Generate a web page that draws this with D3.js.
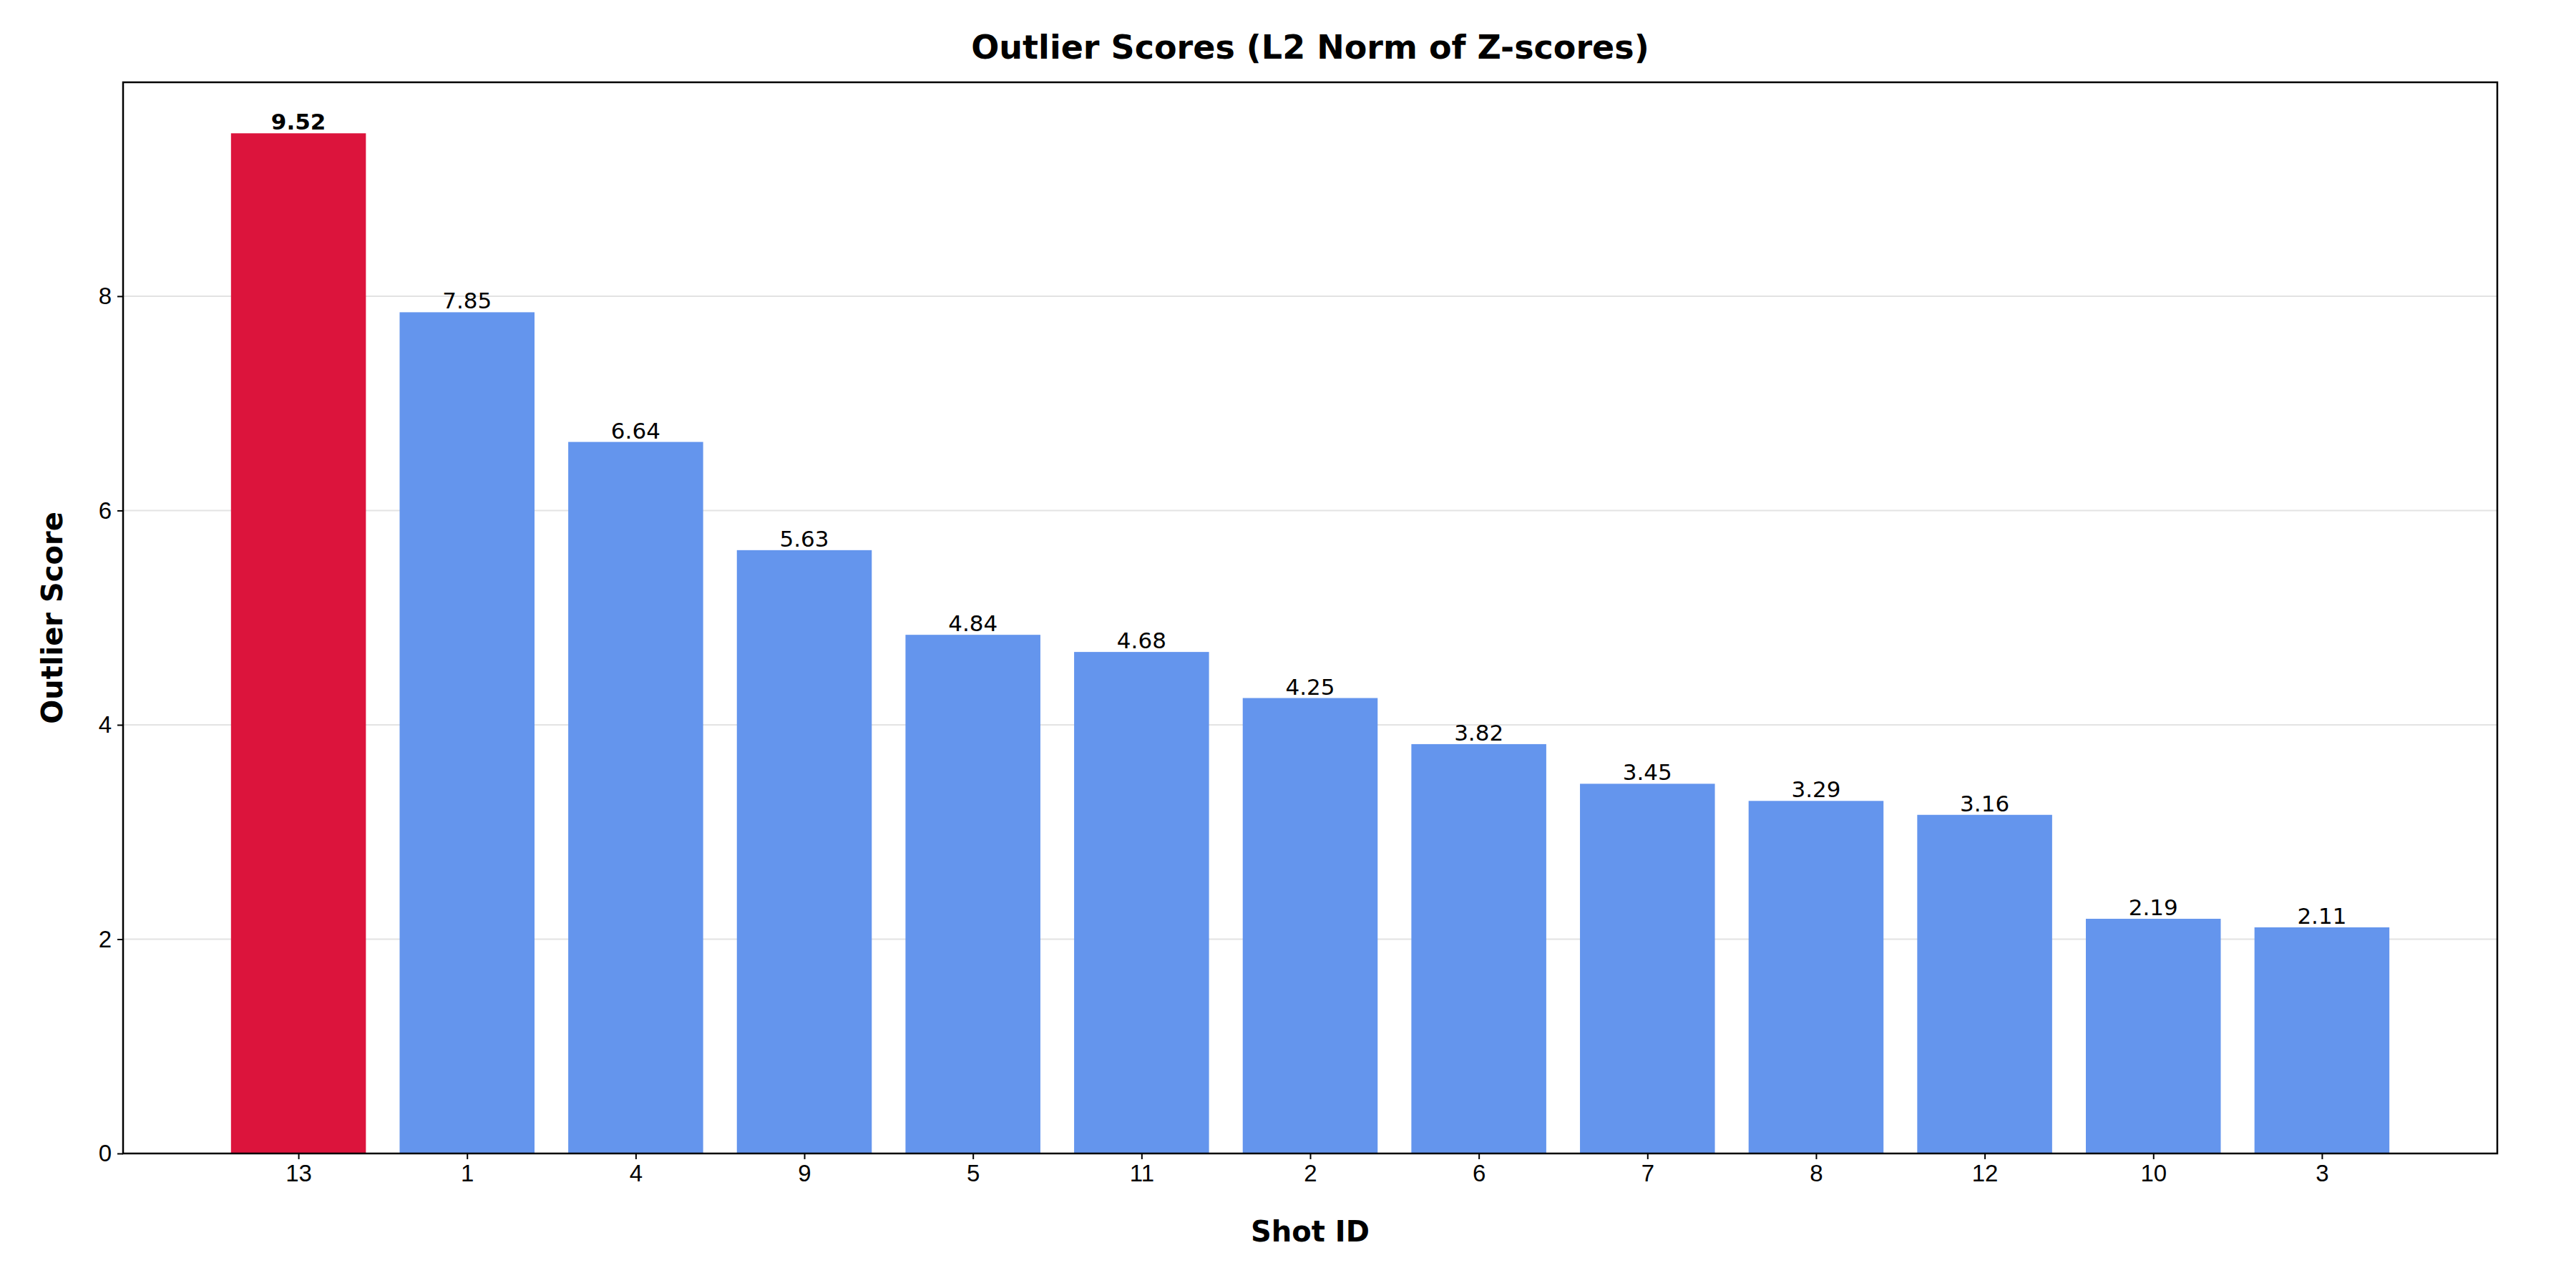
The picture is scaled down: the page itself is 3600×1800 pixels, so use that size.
<!DOCTYPE html>
<html><head><meta charset="utf-8">
<script src="https://cdn.jsdelivr.net/npm/d3@7"></script>
<style>body{margin:0;background:#fff}svg{font-family:"DejaVu Sans",sans-serif}</style>
</head><body><svg id="c" width="3600" height="1800"></svg>
<script>
const shotIds = ["13","1","4","9","5","11","2","6","7","8","12","10","3"];
const scores = [9.52,7.85,6.64,5.63,4.84,4.68,4.25,3.82,3.45,3.29,3.16,2.19,2.11];
const yTicks = [0,2,4,6,8];

const svg = d3.select("#c");
const L=172,R=3490,T=115,B=1612;
const x = d3.scaleLinear().domain([-1.04,13.04]).range([L,R]);
const y = d3.scaleLinear().domain([0,9.996]).range([B,T]);
const bw = x(0.4)-x(-0.4);

svg.append("g").selectAll("line").data(yTicks).join("line")
  .attr("x1",L).attr("x2",R).attr("y1",d=>y(d)).attr("y2",d=>y(d))
  .attr("stroke","#b0b0b0").attr("stroke-opacity",0.35).attr("stroke-width",2);

svg.append("g").selectAll("rect").data(scores).join("rect")
  .attr("x",(d,i)=>x(i)-bw/2).attr("width",bw)
  .attr("y",d=>y(d)).attr("height",d=>B-y(d))
  .attr("fill",(d,i)=>i===0?"#dc143c":"#6495ed");

svg.append("g").selectAll("text").data(scores).join("text")
  .attr("x",(d,i)=>x(i)).attr("y",d=>y(d)-5)
  .attr("text-anchor","middle").attr("font-size",31)
  .attr("font-weight",(d,i)=>i===0?"bold":"normal")
  .text(d=>d.toFixed(2));

const yAxis = svg.append("g").attr("transform",`translate(${L},0)`)
  .call(d3.axisLeft(y).tickValues(yTicks).tickSize(8).tickPadding(8));
const xAxis = svg.append("g").attr("transform",`translate(0,${B})`)
  .call(d3.axisBottom(x).tickValues(d3.range(shotIds.length)).tickFormat(i=>shotIds[i]).tickSize(8).tickPadding(8));
[yAxis,xAxis].forEach(a=>{a.select(".domain").remove();a.selectAll("text").attr("font-size",33).attr("fill","#000");a.selectAll("line").attr("stroke","#000").attr("stroke-width",2);});

svg.append("rect").attr("x",L).attr("y",T).attr("width",R-L).attr("height",B-T)
  .attr("fill","none").attr("stroke","#000").attr("stroke-width",2.5);

svg.append("text").attr("x",(L+R)/2).attr("y",82).attr("text-anchor","middle")
  .attr("font-size",46).attr("font-weight","bold").text("Outlier Scores (L2 Norm of Z-scores)");
svg.append("text").attr("x",(L+R)/2).attr("y",1735).attr("text-anchor","middle")
  .attr("font-size",40).attr("font-weight","bold").text("Shot ID");
svg.append("text").attr("transform",`translate(87,${(T+B)/2}) rotate(-90)`).attr("text-anchor","middle")
  .attr("font-size",40).attr("font-weight","bold").text("Outlier Score");
</script></body></html>
